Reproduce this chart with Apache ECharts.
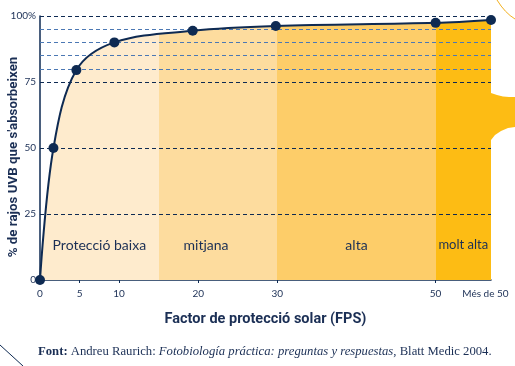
<!DOCTYPE html>
<html>
<head>
<meta charset="utf-8">
<script src="https://cdn.jsdelivr.net/npm/echarts@6/dist/echarts.min.js"></script>
<style>html,body{margin:0;padding:0;background:#fff}#c{width:515px;height:366px}</style>
</head>
<body>
<div id="c"></div>
<script>
// ---- data ----
var fpsValues = [0, 1.7, 4.6, 9.4, 19.3, 29.8, 50, 57];
var absorbed = [0, 50, 79.5, 90, 94.4, 96.2, 97.4, 98.5];
var xTicks = [0, 5, 10, 20, 30, 50];
var xLabelPos = [0, 5, 10, 20, 30, 50, 56.3];
var xLabelText = ['0', '5', '10', '20', '30', '50', 'Més de 50'];
var yTicks = [0, 25, 50, 75, 100];
var majorGrid = [25, 50, 75, 100];
var minorGrid = [80, 85, 90, 95];
var bandStart = [0, 15, 30, 50];
var bandEnd = [15, 30, 50, 57];
var bandNames = ['Protecció baixa', 'mitjana', 'alta', 'molt alta'];
var bandColors = ['#FEEBCD', '#FDDC9E', '#FDCD69', '#FDBC14'];

var NAVY = '#0e2a52';
var TXT = '#1b2f55';
var FONT = 'Lato, "Noto Sans", sans-serif';
var BOLDFONT = 'Roboto, "Noto Sans", sans-serif';

var pts = fpsValues.map(function (x, i) { return [x, absorbed[i]]; });

var pieces = bandStart.map(function (s, i) {
  var p = { gte: s, color: bandColors[i] };
  if (i < bandStart.length - 1) p.lt = bandEnd[i]; else p.lte = bandEnd[i] + 1;
  return p;
});

var gridLines = majorGrid.map(function (v) {
  return { yAxis: v, lineStyle: { color: NAVY, type: [4, 3], width: 1 } };
}).concat(minorGrid.map(function (v) {
  return { yAxis: v, lineStyle: { color: '#4b78b4', type: [4, 3], width: 1 } };
}));

var labelOffsets = [[0, 0], [-12, 0], [0, 0], [0, -1]];
var bandFontSizes = [14, 14, 14, 13];
var bandAreas = bandNames.map(function (n, i) {
  return [
    { name: n, xAxis: bandStart[i], yAxis: 0,
      label: { offset: labelOffsets[i], fontSize: bandFontSizes[i] } },
    { xAxis: bandEnd[i], yAxis: 26 }
  ];
});

// tab decoration polygon points (right side)
var tabPts = [[491, 93], [497, 95], [503, 96.5], [509, 97], [515, 97], [515, 127], [508, 128], [501, 131], [495, 135], [491, 140]];

var chart = echarts.init(document.getElementById('c'), null, { renderer: 'canvas' });
chart.setOption({
  backgroundColor: '#ffffff',
  animation: false,
  grid: { left: 40, right: 24, top: 16, bottom: 86, containLabel: false, outerBoundsMode: 'none' },
  title: {
    left: 38, top: 345, padding: 0,
    text: '{b|Font:} Andreu Raurich: {i|Fotobiología práctica: preguntas y respuestas}, Blatt Medic 2004.',
    textStyle: {
      fontFamily: '"Liberation Serif", "DejaVu Serif", serif',
      fontSize: 12.7, fontWeight: 'normal', color: TXT,
      rich: {
        b: { fontFamily: '"Liberation Serif", serif', fontSize: 12.7, fontWeight: 'bold', color: TXT },
        i: { fontFamily: '"Liberation Serif", serif', fontSize: 12.7, fontStyle: 'italic', color: TXT }
      }
    }
  },
  visualMap: {
    show: false, type: 'piecewise', dimension: 0, seriesIndex: 0,
    pieces: pieces
  },
  xAxis: {
    type: 'value', min: 0, max: 57,
    name: 'Factor de protecció solar (FPS)',
    nameLocation: 'middle', nameGap: 32, nameMoveOverlap: false,
    nameTextStyle: { fontFamily: BOLDFONT, fontSize: 14.5, fontWeight: 'bold', color: TXT },
    axisLine: { show: true, lineStyle: { color: NAVY, width: 1.5 } },
    axisTick: { show: true, customValues: xTicks, length: 3, lineStyle: { color: NAVY } },
    axisLabel: {
      customValues: xLabelPos, margin: 9,
      fontFamily: FONT, fontSize: 10, color: TXT,
      formatter: function (v) {
        var i = xLabelPos.indexOf(v);
        return i >= 0 ? xLabelText[i] : '';
      }
    },
    splitLine: { show: false }
  },
  yAxis: {
    type: 'value', min: 0, max: 100, interval: 25,
    name: "% de rajos UVB que s'absorbeixen",
    nameLocation: 'middle', nameGap: 20, nameMoveOverlap: false,
    nameTextStyle: { fontFamily: BOLDFONT, fontSize: 13.3, fontWeight: 'bold', color: TXT, padding: [0, 18, 0, 0] },
    axisLine: { show: true, lineStyle: { color: NAVY, width: 1.5 } },
    axisTick: { show: false },
    axisLabel: {
      customValues: yTicks, margin: 4,
      fontFamily: FONT, fontSize: 10, color: TXT,
      formatter: function (v) { return v === 100 ? '100%' : String(v); }
    },
    splitLine: { show: false }
  },
  series: [
    {
      type: 'line', data: pts,
      smooth: 0.35,
      showSymbol: false, symbol: 'none',
      lineStyle: { width: 0 },
      areaStyle: { opacity: 1 },
      silent: true,
      markLine: {
        silent: true, symbol: 'none', label: { show: false },
        data: gridLines
      }
    },
    {
      type: 'line', data: pts,
      smooth: 0.35,
      symbol: 'circle', symbolSize: 10,
      lineStyle: { color: NAVY, width: 2 },
      itemStyle: { color: NAVY },
      z: 5,
      markArea: {
        silent: true, z: 6,
        itemStyle: { color: 'rgba(0,0,0,0)' },
        label: { show: true, position: 'inside', fontFamily: FONT, fontSize: 14, color: TXT },
        data: bandAreas
      }
    }
  ],
  graphic: [
    { type: 'line', shape: { x1: 0, y1: 345, x2: 23, y2: 366 }, style: { stroke: NAVY, lineWidth: 1 } },
    { type: 'bezierCurve', shape: { x1: 497, y1: 0, cpx1: 505, cpy1: 13, x2: 515, y2: 19 }, style: { fill: 'none', stroke: '#F2B01E', lineWidth: 1 } },
    { type: 'polygon', shape: { points: tabPts }, style: { fill: '#FDBC14' } }
  ]
});
</script>
</body>
</html>
